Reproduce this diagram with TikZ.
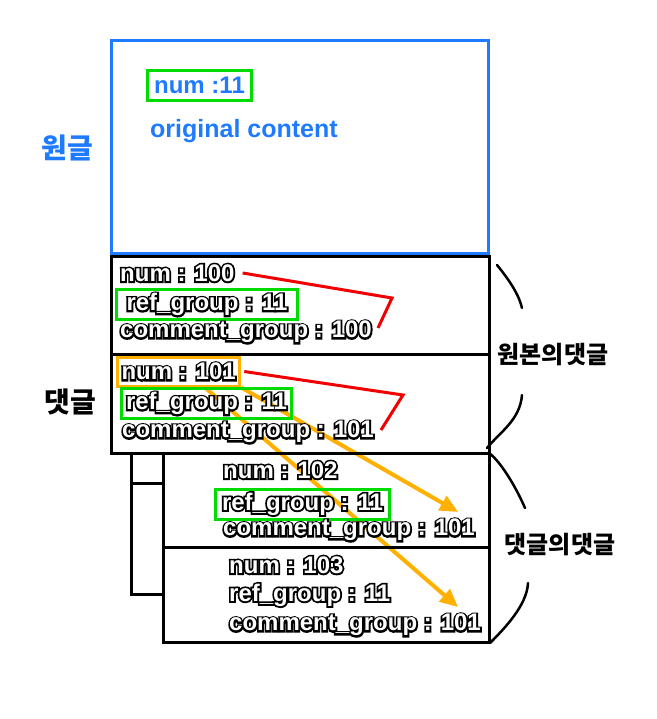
\documentclass[tikz,border=0pt]{standalone}
\usepackage{fontspec}
\setmainfont{Liberation Sans}
\newfontfamily\kofont{Noto Sans CJK KR}
\usetikzlibrary{arrows.meta,positioning,calc,backgrounds}
\definecolor{origblue}{RGB}{30,122,255}
\definecolor{mkgreen}{RGB}{0,220,0}
\definecolor{mkorange}{RGB}{255,176,0}
\definecolor{mkred}{RGB}{240,0,0}
% white letters with a black rim: stroked copy under the filled one
\newcommand\outl[1]{\rlap{\special{pdf:literal direct 1 Tr 3.6 w 0 G}#1\special{pdf:literal direct 0 Tr}}#1}

\begin{document}
\begin{tikzpicture}[
    x=1pt, y=-1pt,
    font=\bfseries\fontsize{24}{26}\selectfont,
    origbox/.style={
      draw=origblue, line width=3pt, anchor=north west,
      minimum width=377pt, minimum height=213pt, inner sep=0pt
    },
    cbox/.style={
      draw, line width=3pt, inner sep=0pt, outer sep=0pt
    },
    txt/.style={anchor=west, inner sep=0pt, text=white},
    btxt/.style={anchor=west, inner sep=0pt, text=origblue,
      font=\bfseries\fontsize{25}{27}\selectfont},
    grnbox/.style={
      draw=mkgreen, line width=3pt, inner xsep=4pt, inner ysep=0pt,
      minimum height=30pt
    },
    orgbox/.style={
      draw=mkorange, line width=3pt, inner xsep=4pt, inner ysep=0pt,
      minimum height=29pt
    },
    klabel/.style={font=\kofont\bfseries\fontsize{28}{30}\selectfont},
    slabel/.style={font=\kofont\bfseries\fontsize{24}{26}\selectfont},
    link/.style={draw=mkred, line width=3pt},
    refarr/.style={draw=mkorange, line width=4pt, -{Triangle[length=18pt,width=16pt]}},
    tree/.style={line width=3pt},
    brace/.style={line width=2.5pt, line cap=round}
  ]
    \useasboundingbox (0,0) rectangle (656,719);

    % --- Original post ---
    \node[origbox] (orig) at (110,39) {};
    \node[btxt, grnbox, font=\bfseries\fontsize{24}{26}\selectfont, minimum width=104pt]
      (on11) at (146,85.5) {num :11};
    \node[btxt] (ocont) at (150,131) {original content};
    \node[klabel, text=origblue] (lorig) at (67,148) {원글};

    % --- Comments on the original ---
    \node[cbox, anchor=north west, minimum width=378pt, minimum height=98pt]
      (c100) at (111,256) {};
    \node[cbox, below=0pt of c100, minimum width=378pt, minimum height=99pt]
      (c101) {};
    \node[txt] (n100) at (120,273) {\outl{num : 100}};
    \node[txt, grnbox, minimum width=181pt] (rg100) at (115,304.5) {\outl{ref\_group : 11}};
    \node[txt] (cg100) at (120,332) {\outl{comment\_group : 100}};
    \node[txt, orgbox] (n101) at (116,371.5) {\outl{num : 101}};
    \node[txt, grnbox, minimum width=170pt] (rg101) at (120,403.5) {\outl{ref\_group : 11}};
    \node[txt] (cg101) at (122,432) {\outl{comment\_group : 101}};
    \node[klabel] (lcmt) at (70,402) {댓글};

    % --- Replies to a comment ---
    \node[cbox, anchor=north east, minimum width=326pt, minimum height=94pt]
      (c102) at (c101.south east) {};
    \node[cbox, below=0pt of c102, minimum width=326pt, minimum height=95pt]
      (c103) {};
    \node[txt] (n102) at (223,470) {\outl{num : 102}};
    \node[txt, grnbox, minimum width=174pt] (rg102) at (214,504) {\outl{ref\_group : 11}};
    \node[txt] (cg102) at (223,530) {\outl{comment\_group : 101}};
    \node[txt] (n103) at (229,565) {\outl{num : 103}};
    \node[txt] (rg103) at (229,595) {\outl{ref\_group : 11}};
    \node[txt] (cg103) at (229,625) {\outl{comment\_group : 101}};

    % --- Side labels and braces ---
    \node[slabel] (lorigc) at (553,355) {원본의댓글};
    \node[slabel] (lreply) at (560,545) {댓글의댓글};
    \draw[brace] (497,265) .. controls (510,281) and (519,295) .. (522,308);
    \draw[brace] (522,395) .. controls (520,420) and (500,432) .. (487,448);
    \draw[brace] (489,453) .. controls (500,461) and (515,485) .. (525,508);
    \draw[brace] (528,583) .. controls (527,605) and (505,628) .. (490,643);

    % --- Tree ---
    \coordinate (trunk) at ($(c101.south west)+(20,0)$);
    \coordinate (br) at ([yshift=17pt]c102.west);
    \draw[tree] (trunk) |- (c103.west);
    \draw[tree] (trunk |- br) -- (br);

    % --- Links ---
    \coordinate (k100) at (392,298);
    \coordinate (k101) at (403,395);
    \draw[link] ([xshift=8pt]n100.east) -- (k100) -- ([shift={(6pt,4pt)}]cg100.east);
    \draw[link] ([xshift=3pt]n101.east) -- (k101) -- ([shift={(7pt,2pt)}]cg101.east);

    \coordinate (t102) at (458,512);
    \coordinate (t103) at (458,607);
    \begin{scope}[on background layer]
      \draw[refarr] (n101.south east) -- (t102);
      \draw[refarr] ($(n101.south)!0.42!(n101.south east)$) -- (t103);
    \end{scope}
  \end{tikzpicture}
\end{document}
